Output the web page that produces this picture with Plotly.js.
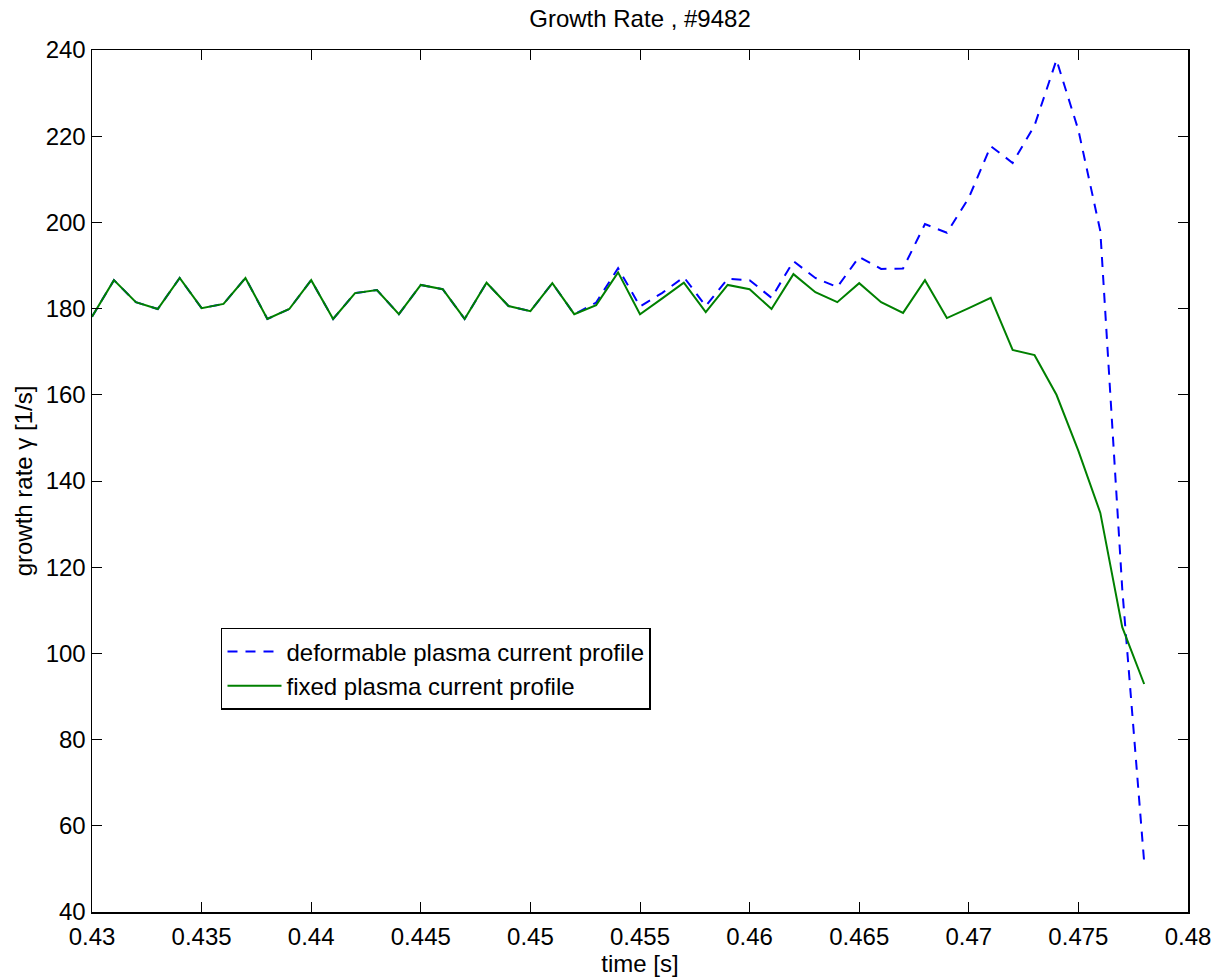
<!DOCTYPE html>
<html>
<head>
<meta charset="utf-8">
<script src="https://cdn.plot.ly/plotly-3.0.1.min.js"></script>
<style>html,body{margin:0;padding:0;background:#fff;}#chart{width:1225px;height:980px;}</style>
</head>
<body>
<div id="chart"></div>
<script>
const time = [0.430,0.431,0.432,0.433,0.434,0.435,0.436,0.437,0.438,0.439,
              0.440,0.441,0.442,0.443,0.444,0.445,0.446,0.447,0.448,0.449,
              0.450,0.451,0.452,0.453,0.454,0.455,0.456,0.457,0.458,0.459,
              0.460,0.461,0.462,0.463,0.464,0.465,0.466,0.467,0.468,0.469,
              0.470,0.471,0.472,0.473,0.474,0.475,0.476,0.477,0.478];

const deformable = [178.1,186.6,181.5,179.9,187.1,180.1,181.1,187.1,177.6,179.9,
                    186.6,177.6,183.6,184.3,178.7,185.5,184.5,177.6,186.0,180.6,
                    179.4,185.9,178.7,181.4,189.4,180.5,183.6,187.3,180.6,186.9,
                    186.6,182.5,191.0,187.1,185.0,192.0,189.2,189.3,199.6,197.6,
                    205.7,217.7,213.8,222.5,237.7,221.4,198.0,115.0,51.6];

const fixed = [178.1,186.6,181.5,179.9,187.1,180.1,181.1,187.1,177.6,179.9,
               186.6,177.6,183.6,184.3,178.7,185.5,184.5,177.6,186.0,180.6,
               179.4,185.9,178.7,180.8,188.4,178.7,182.3,186.0,179.2,185.5,
               184.5,179.9,188.0,183.8,181.5,185.9,181.5,179.0,186.6,177.8,
               180.1,182.5,170.4,169.2,160.0,147.0,132.6,106.1,92.9];

const seriesNames = ['deformable plasma current profile', 'fixed plasma current profile'];

const traces = [
  {x: time, y: deformable, type: 'scatter', mode: 'lines', name: seriesNames[0],
   line: {color: '#0000ff', width: 2, dash: '10px,8px'}},
  {x: time, y: fixed, type: 'scatter', mode: 'lines', name: seriesNames[1],
   line: {color: '#008000', width: 2}}
];

const font = 'Liberation Sans, Arial, Helvetica, sans-serif';
const fs = 24;

const layout = {
  width: 1225, height: 980,
  margin: {l: 92, r: 37, t: 50, b: 68, pad: 0},
  paper_bgcolor: '#ffffff', plot_bgcolor: '#ffffff',
  font: {family: font, size: fs, color: '#000'},
  title: {text: 'Growth Rate , #9482', font: {family: font, size: fs, color: '#000'},
          x: 0.5, xref: 'paper', xanchor: 'center', y: 0.981, yref: 'container', yanchor: 'middle'},
  showlegend: true,
  legend: {x: 0.1177, y: 0.3295, xanchor: 'left', yanchor: 'top',
           bgcolor: '#ffffff', bordercolor: '#000', borderwidth: 1.5,
           itemwidth: 54,
           font: {family: font, size: fs, color: '#000'}, traceorder: 'normal',
           tracegroupgap: 0},
  xaxis: {
    range: [0.43, 0.48], dtick: 0.005, tick0: 0.43,
    ticks: 'inside', ticklen: 10, tickwidth: 1, tickcolor: '#000',
    ticklabelstandoff: 3,
    showline: true, linecolor: '#000', linewidth: 1.5, mirror: 'ticks',
    showgrid: false, zeroline: false,
    tickfont: {family: font, size: fs, color: '#000'},
    title: {text: 'time [s]', font: {family: font, size: fs, color: '#000'}, standoff: 4}
  },
  yaxis: {
    range: [40, 240], dtick: 20, tick0: 40,
    ticks: 'inside', ticklen: 10, tickwidth: 1, tickcolor: '#000',
    showline: true, linecolor: '#000', linewidth: 1.5, mirror: 'ticks',
    showgrid: false, zeroline: false,
    tickfont: {family: font, size: fs, color: '#000'},
    title: {text: 'growth rate γ [1/s]', font: {family: font, size: fs, color: '#000'}, standoff: 6}
  }
};

Plotly.newPlot('chart', traces, layout, {displayModeBar: false, staticPlot: true});
</script>
</body>
</html>
